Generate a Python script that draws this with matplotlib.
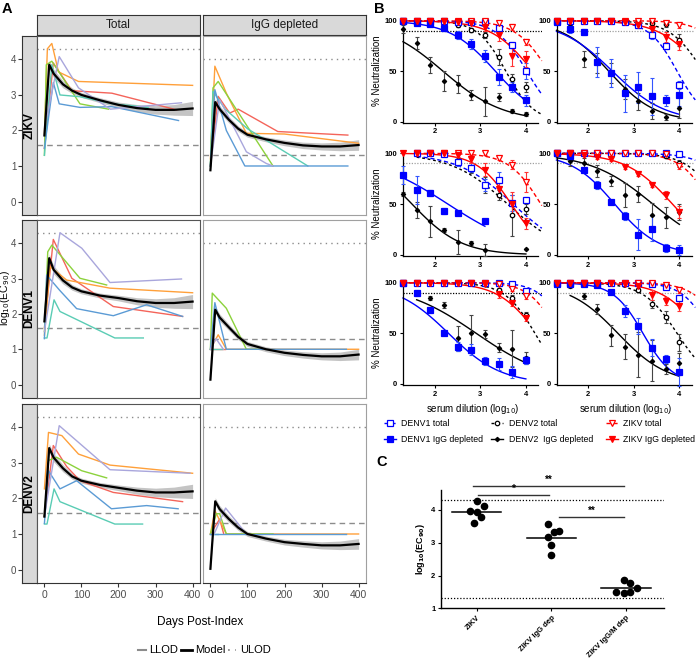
import numpy as np
import matplotlib.pyplot as plt
from matplotlib.lines import Line2D

plt.rcParams['font.family'] = ['Liberation Sans', 'DejaVu Sans']

# ---------------- panel A data ----------------
A_ROWS = ['ZIKV', 'DENV1', 'DENV2']
A_COLS = ['Total', 'IgG depleted']
A_LLOD = [1.6, 1.3]
A_ULOD = [4.3, 4.0]
SUBJ_COLORS = ['#F4645A', '#FFA03A', '#8CD23C', '#5ACCB4', '#5B9BD5', '#A9A6DC']

# (days, log10 EC90) per subject, order: red, orange, green, teal, blue, lavender
zikv_tot = [([0, 24, 74, 182, 357], [1.5, 3.9, 3.12, 3.05, 2.58]),
            ([0, 8, 20, 38, 92, 400], [1.9, 4.3, 4.45, 3.65, 3.38, 3.27]),
            ([0, 5, 20, 96, 173], [1.3, 3.85, 3.95, 2.75, 2.6]),
            ([0, 20, 42, 96, 185, 280], [1.3, 3.85, 3.0, 2.95, 2.75, 2.65]),
            ([0, 24, 40, 96, 182, 362], [1.5, 3.35, 2.75, 2.65, 2.67, 2.28]),
            ([5, 40, 92, 178, 370], [2.3, 4.08, 3.2, 2.6, 2.78])]
zikv_dep = [([0, 21, 52, 75, 182, 371], [1.0, 2.96, 2.49, 2.6, 1.97, 1.87]),
            ([0, 12, 43, 97, 200, 400], [1.2, 3.81, 3.05, 1.92, 1.9, 1.64]),
            ([0, 7, 21, 169], [1.0, 3.2, 3.38, 1.0]),
            ([0, 7, 40, 100, 263], [1.0, 3.1, 2.6, 2.05, 1.0]),
            ([0, 12, 43, 93, 371], [1.0, 3.15, 2.0, 1.0, 1.0]),
            ([0, 25, 97, 151, 169], [1.0, 2.87, 1.4, 1.07, 1.0])]
denv1_tot = [([0, 24, 74, 186, 373], [1.6, 4.11, 3.01, 2.21, 1.93]),
             ([0, 15, 60, 177, 400], [1.4, 3.34, 2.96, 2.73, 2.6]),
             ([0, 9, 20, 96, 168], [1.5, 3.76, 3.95, 3.01, 2.82]),
             ([0, 7, 26, 42, 190, 267], [1.32, 1.32, 2.4, 2.07, 1.32, 1.32]),
             ([0, 6, 42, 87, 186, 276, 373], [1.3, 3.1, 2.66, 2.15, 1.95, 2.26, 1.93]),
             ([0, 42, 101, 177, 370], [1.5, 4.3, 3.86, 2.89, 2.99])]
denv1_dep = [([0, 40], [1.0, 1.0]),
             ([0, 21, 43, 400], [1.0, 1.41, 1.0, 1.0]),
             ([0, 5, 43, 97, 130], [1.0, 2.59, 2.16, 1.0, 1.0]),
             ([0, 30], [1.0, 1.0]),
             ([0, 12, 43, 367], [1.0, 2.32, 1.0, 1.0]),
             ([0, 15, 35], [1.0, 1.3, 1.0])]
denv2_tot = [([0, 24, 60, 96, 186, 373], [1.5, 3.49, 2.9, 2.5, 2.17, 1.91]),
             ([0, 11, 47, 92, 177, 400], [2.27, 3.86, 3.77, 3.25, 2.94, 2.71]),
             ([0, 11, 33, 101, 168], [1.5, 3.07, 3.16, 2.78, 2.58]),
             ([0, 7, 26, 42, 190, 265], [1.28, 1.28, 2.27, 1.91, 1.28, 1.28]),
             ([0, 11, 42, 87, 181, 276, 361], [1.3, 2.78, 2.27, 2.5, 1.71, 1.8, 1.71]),
             ([0, 40, 177, 393], [1.5, 4.05, 2.81, 2.71])]
denv2_dep = [([0, 25, 36], [1.0, 1.42, 1.0]),
             ([0, 12, 43, 367, 400], [1.0, 1.66, 1.0, 1.0, 1.0]),
             ([0, 16, 25, 43, 169], [1.0, 1.57, 1.57, 1.0, 1.0]),
             ([0, 20], [1.0, 1.0]),
             ([0, 367], [1.0, 1.0]),
             ([10, 41, 97], [1.0, 1.73, 1.0])]

MODEL_DAYS = [0, 13, 25, 50, 75, 100, 150, 200, 250, 300, 350, 400]
zikv_tot_model = [1.86, 3.85, 3.6, 3.3, 3.12, 3.0, 2.85, 2.72, 2.63, 2.58, 2.58, 2.62]
zikv_dep_model = [0.88, 2.8, 2.6, 2.3, 2.05, 1.88, 1.75, 1.65, 1.58, 1.55, 1.55, 1.59]
denv1_tot_model = [1.79, 3.58, 3.25, 2.95, 2.75, 2.64, 2.52, 2.45, 2.36, 2.31, 2.31, 2.35]
denv1_dep_model = [0.14, 2.12, 1.9, 1.62, 1.35, 1.15, 1.0, 0.9, 0.84, 0.8, 0.8, 0.85]
denv2_tot_model = [1.49, 3.42, 3.15, 2.85, 2.62, 2.5, 2.38, 2.3, 2.22, 2.17, 2.17, 2.2]
denv2_dep_model = [0.02, 1.92, 1.7, 1.42, 1.18, 1.0, 0.87, 0.77, 0.72, 0.68, 0.68, 0.72]
band_tot = [0.05, 0.12, 0.12, 0.1, 0.08, 0.07, 0.07, 0.08, 0.1, 0.12, 0.15, 0.2]
band_dep = [0.05, 0.1, 0.1, 0.09, 0.08, 0.07, 0.07, 0.08, 0.09, 0.1, 0.12, 0.15]

A_DATA = [[zikv_tot, zikv_dep], [denv1_tot, denv1_dep], [denv2_tot, denv2_dep]]
A_MODEL = [[zikv_tot_model, zikv_dep_model], [denv1_tot_model, denv1_dep_model],
           [denv2_tot_model, denv2_dep_model]]
A_BAND = [band_tot, band_dep]

# ---------------- panel B data ----------------
nan = np.nan
DIL = [1.3, 1.6, 1.9, 2.2, 2.5, 2.8, 3.1, 3.4, 3.7, 4.0]
B_SERIES = ['DENV1 total', 'DENV1 IgG depleted', 'DENV2 total',
            'DENV2  IgG depleted', 'ZIKV total', 'ZIKV IgG depleted']
# order in each list: DENV1 tot, DENV1 dep, DENV2 tot, DENV2 dep, ZIKV tot, ZIKV dep
b1_vals = [[100, 100, 100, 100, 99, 99, 99, 93, 76, 50],
           [100, 98, 97, 93, 86, 77, 65, 44, 34, 21],
           [100, 100, 100, 99, 96, 91, 86, 64, 42, 34],
           [92, 78, 56, 40, 37, 26, 20, 24, 11, 8],
           [100, 100, 100, 100, 100, 100, 100, 98, 94, 79],
           [100, 100, 100, 100, 99, 98, 94, 86, 65, 62]]
b1_err = [[0, 0, 0, 0, 0, 1, 1, 3, 3, 8], [1, 2, 2, 3, 4, 5, 6, 8, 5, 5],
          [0, 0, 0, 1, 2, 2, 3, 8, 5, 5], [4, 6, 8, 10, 9, 5, 14, 4, 2, 2],
          [0, 0, 0, 0, 0, 0, 1, 2, 3, 3], [1, 1, 1, 1, 2, 2, 4, 6, 10, 8]]
b1_fit = [(4.02, 1.3), (3.33, 0.86), (3.56, 1.4), (2.18, 0.66), (4.5, 1.2), (4.15, 0.96)]

b2_vals = [[100, 100, 100, 100, 100, 99, 96, 86, 75, 36],
           [99, 92, 89, 59, 48, 28, 34, 25, 21, 26],
           [100, 100, 100, 100, 100, 99, 99, 98, 97, 81],
           [99, 97, 62, 58, 48, 32, 20, 11, 5, 14],
           [100, 100, 100, 100, 100, 100, 100, 100, 98, 96],
           [100, 100, 100, 100, 100, 99, 96, 92, 84, 77]]
b2_err = [[0, 0, 0, 0, 0, 1, 2, 4, 3, 4], [1, 4, 3, 15, 14, 18, 15, 18, 5, 10],
          [0, 0, 0, 0, 0, 1, 1, 2, 3, 6], [1, 1, 8, 10, 10, 10, 8, 8, 3, 10],
          [0, 0, 0, 0, 0, 0, 0, 1, 2, 3], [1, 1, 1, 1, 1, 2, 3, 4, 5, 6]]
b2_fit = [(3.95, 1.4), (2.53, 0.75), (4.52, 1.2), (2.45, 0.85), (5.2, 1.3), (4.52, 0.92)]

b3_vals = [[nan, 100, 100, 99, 91, 86, 69, 74, 51, 54],
           [79, 64, 61, 43, 41, nan, 33, nan, nan, nan],
           [nan, 100, 100, 99, 92, 85, 69, 59, 39, 45],
           [60, 44, 33, 25, 13, 12, 5, nan, nan, 6],
           [nan, 100, 100, 100, 100, 100, 100, 95, 89, 72],
           [100, 100, 100, 100, 98, 94, 84, 65, 50, 31]]
b3_err = [[0, 0, 1, 2, 3, 4, 6, 8, 8, 3], [9, 14, 3, 3, 2, 0, 0, 0, 0, 0],
          [0, 0, 1, 2, 3, 4, 8, 5, 20, 5], [2, 8, 15, 2, 12, 2, 6, 0, 0, 0],
          [0, 0, 0, 0, 0, 1, 2, 2, 4, 10], [0, 0, 0, 1, 2, 4, 6, 8, 12, 5]]
b3_fit = [(3.72, 0.71), (2.29, 0.5), (3.6, 0.7), (1.5, 0.8), (4.33, 1.24), (3.68, 1.15)]

b4_vals = [[100, 100, 100, 100, 100, 100, 100, 100, 100, 99],
           [100, 97, 84, 69, 52, 38, 20, 26, 7, 5],
           [100, 100, 100, 100, 100, 100, 100, 100, 97, 90],
           [100, 92, 90, 83, 73, 59, 60, 39, 37, 42],
           [100, 100, 100, 100, 100, 100, 100, 100, 99, 88],
           [100, 100, 98, 96, 94, 87, 80, 69, 59, 42]]
b4_err = [[0, 0, 0, 0, 0, 0, 0, 0, 0, 1], [0, 1, 2, 4, 2, 4, 15, 12, 4, 5],
          [0, 0, 0, 0, 0, 0, 1, 1, 2, 3], [1, 4, 5, 6, 5, 12, 8, 12, 10, 8],
          [0, 0, 0, 0, 0, 0, 0, 1, 1, 3], [1, 1, 1, 2, 2, 2, 2, 2, 4, 6]]
b4_fit = [(5.3, 1.2), (2.58, 0.9), (4.9, 1.2), (3.42, 0.63), (4.7, 1.3), (3.85, 0.85)]

b5_vals = [[100, 100, 100, 100, 100, 100, 100, 100, 99, 92],
           [100, 90, 73, 50, 37, 34, 23, 20, 12, 24],
           [100, 100, 100, 100, 100, 100, 99, 93, 85, 68],
           [nan, 90, 85, 78, 45, 50, 49, 36, 35, 26],
           [100, 100, 100, 100, 100, 100, 100, 99, 94, 87],
           [100, 100, 100, 100, 100, 100, 99, 89, 80, 65]]
b5_err = [[0, 0, 0, 0, 0, 0, 0, 1, 2, 2], [1, 3, 3, 2, 4, 5, 4, 6, 6, 4],
          [0, 0, 0, 0, 0, 0, 1, 2, 3, 3], [0, 2, 2, 3, 12, 18, 4, 4, 18, 6],
          [0, 0, 0, 0, 0, 0, 0, 1, 2, 3], [1, 1, 1, 1, 1, 1, 2, 4, 3, 3]]
b5_fit = [(4.9, 1.5), (2.3, 0.75), (4.2, 1.3), (2.91, 0.53), (4.7, 1.4), (4.25, 1.0)]

b6_vals = [[100, 100, 100, 100, 100, 100, 100, 99, 96, 85],
           [99, 99, 99, 98, 91, 72, 57, 36, 25, 12],
           [100, 100, 100, 100, 100, 99, 93, 79, 66, 41],
           [nan, 97, 87, 74, 48, 37, 29, 23, 15, 21],
           [100, 100, 100, 100, 100, 100, 100, 100, 98, 93],
           [100, 100, 100, 100, 100, 99, 97, 88, 82, 77]]
b6_err = [[0, 0, 0, 0, 0, 0, 1, 1, 2, 3], [1, 1, 1, 1, 2, 6, 8, 8, 4, 14],
          [0, 0, 0, 0, 0, 1, 2, 4, 6, 8], [0, 2, 3, 5, 10, 12, 22, 20, 5, 10],
          [0, 0, 0, 0, 0, 0, 0, 1, 2, 3], [0, 0, 0, 1, 1, 2, 3, 5, 4, 5]]
b6_fit = [(4.7, 1.4), (3.2, 1.33), (3.95, 1.17), (2.65, 0.8), (5.0, 1.3), (4.5, 1.0)]

# ---------------- panel C data ----------------
C_GROUPS = ['ZIKV', 'ZIKV IgG dep', 'ZIKV IgG/M dep']
c_zikv = [4.26, 4.12, 3.97, 3.93, 3.80, 3.59]
c_zikv_jit = [0.0, 0.10, -0.09, 0.0, 0.05, -0.04]
c_igg = [3.56, 3.37, 3.32, 3.16, 2.92, 2.63]
c_igg_jit = [-0.05, 0.10, 0.04, -0.05, 0.0, 0.0]
c_iggm = [1.86, 1.78, 1.61, 1.51, 1.49, 1.46]
c_iggm_jit = [-0.03, 0.06, 0.15, -0.13, 0.06, -0.03]
C_SIG = [(-0.05, 1.98, 4.74, '**'), (0.02, 0.97, 4.45, '*'), (1.1, 1.98, 3.8, '**')]

# ---------------- figure ----------------
W, H = 696, 667
fig = plt.figure(figsize=(W / 100, H / 100), dpi=100)


def px_axes(x0, y0, x1, y1):
    return fig.add_axes([x0 / W, 1 - y1 / H, (x1 - x0) / W, (y1 - y0) / H])


def fx(x):
    return x / W


def fy(y):
    return 1 - y / H


# ===== panel A =====
row_px = [(36, 215), (220, 398), (404, 583)]
col_px = [(37, 200), (203, 366)]
YL = (-0.38, 4.66)
tick_gray = '#4D4D4D'

for j, (x0, x1) in enumerate(col_px):
    cax = px_axes(x0, 15, x1, 35)
    cax.set_facecolor('#D9D9D9')
    cax.set_xticks([])
    cax.set_yticks([])
    for s in cax.spines.values():
        s.set_color('#333333')
        s.set_linewidth(0.8)
    cax.text(0.5, 0.5, A_COLS[j], transform=cax.transAxes, ha='center', va='center',
             fontsize=8.5, color='#1A1A1A')

for i, (y0, y1) in enumerate(row_px):
    sax = px_axes(22, y0, 37, y1)
    sax.set_facecolor('#D9D9D9')
    sax.set_ylim(YL)
    sax.set_xticks([])
    sax.set_yticks(range(5))
    sax.tick_params(axis='y', length=3, color='#333333', labelsize=7, labelcolor=tick_gray,
                    pad=1.0)
    for s in sax.spines.values():
        s.set_color('#333333')
        s.set_linewidth(0.8)
    sax.text(0.5, 0.5, A_ROWS[i], transform=sax.transAxes, rotation=90, ha='center',
             va='center', fontsize=8.5, fontweight='bold')

    for j, (x0, x1) in enumerate(col_px):
        ax = px_axes(x0, y0, x1, y1)
        ax.set_xlim(-20, 420)
        ax.set_ylim(YL)
        ax.set_yticks([])
        edge = '#555555' if j == 0 else '#A0A0A0'
        for s in ax.spines.values():
            s.set_color(edge)
            s.set_linewidth(0.8)
        ax.axhline(A_ULOD[j], color='#8C8C8C', ls=(0, (1, 3)), lw=1.0)
        ax.axhline(A_LLOD[j], color='#8C8C8C', ls=(0, (4, 3)), lw=1.0)
        for k, (d, v) in enumerate(A_DATA[i][j]):
            ax.plot(d, v, color=SUBJ_COLORS[k], lw=1.0)
        m = np.array(A_MODEL[i][j])
        b = np.array(A_BAND[j])
        ax.fill_between(MODEL_DAYS, m - b, m + b, color='#BEBEBE', lw=0, alpha=0.9)
        ax.plot(MODEL_DAYS, m, color='black', lw=1.6)
        if i == 2:
            ax.spines['bottom'].set_color('#333333')
            ax.set_xticks([0, 100, 200, 300, 400])
            ax.tick_params(axis='x', length=3, color='#333333', labelsize=7.5,
                           labelcolor=tick_gray, pad=2)
        else:
            ax.set_xticks([])

fig.text(fx(5.5), fy(298), 'log$_{10}$(EC$_{90}$)', rotation=90, ha='center', va='center',
         fontsize=7.5)
fig.text(fx(200), fy(622), 'Days Post-Index', ha='center', va='center', fontsize=8.5)

# legend for A
ly = fy(650)
fig.add_artist(Line2D([fx(138), fx(146)], [ly, ly], color='#8C8C8C', lw=1.5))
fig.text(fx(149), ly, 'LLOD', va='center', fontsize=8)
fig.add_artist(Line2D([fx(181), fx(192)], [ly, ly], color='black', lw=2.0))
fig.text(fx(195), ly, 'Model', va='center', fontsize=8)
fig.add_artist(Line2D([fx(228), fx(236)], [ly, ly], color='#8C8C8C', lw=1.3, ls=(0, (1, 3))))
fig.text(fx(240), ly, 'ULOD', va='center', fontsize=8)

fig.text(fx(2), fy(2), 'A', fontsize=10.5, fontweight='bold', va='top')

# ===== panel B =====
BLUE, BLACK, RED = '#0000FF', '#000000', '#FF0000'
B_STYLE = [
    dict(color=BLUE, marker='s', mfc='white', ls=(0, (3, 2)), ms=4.0, ecol='#3355FF'),
    dict(color=BLUE, marker='s', mfc=BLUE, ls='-', ms=4.0, ecol='#3355FF'),
    dict(color=BLACK, marker='o', mfc='white', ls=(0, (2, 2)), ms=3.2, ecol='#444444'),
    dict(color=BLACK, marker='D', mfc=BLACK, ls='-', ms=2.2, ecol='#444444'),
    dict(color=RED, marker='v', mfc='white', ls=(0, (3, 2)), ms=4.0, ecol='#FF3333'),
    dict(color=RED, marker='v', mfc=RED, ls='-', ms=4.0, ecol='#FF3333'),
]
DRAW_ORDER = [2, 3, 0, 1, 4, 5]


def logistic(x, c, h):
    return 100.0 / (1.0 + 10.0 ** (h * (x - c)))


B_PANELS = [(b1_vals, b1_err, b1_fit, 'black'), (b2_vals, b2_err, b2_fit, '#A0A0A0'),
            (b3_vals, b3_err, b3_fit, '#A0A0A0'), (b4_vals, b4_err, b4_fit, '#A0A0A0'),
            (b5_vals, b5_err, b5_fit, 'black'), (b6_vals, b6_err, b6_fit, '#A0A0A0')]
b_cols = [(403, 541.8), (556.5, 695.3)]
b_rows = [(18.7, 122.7), (151.3, 256), (280.7, 385)]

x = np.array(DIL)
for p, (vals, errs, fits, dotcol) in enumerate(B_PANELS):
    r, cidx = divmod(p, 2)
    ax = px_axes(b_cols[cidx][0], b_rows[r][0], b_cols[cidx][1], b_rows[r][1])
    ax.set_xlim(1.3, 4.35)
    ax.set_ylim(-1, 102)
    ax.axhline(90, color=dotcol, ls=(0, (1, 1.2)), lw=0.9, zorder=1)
    for k in DRAW_ORDER:
        st = B_STYLE[k]
        v = np.array(vals[k], dtype=float)
        e = np.array(errs[k], dtype=float)
        ok = ~np.isnan(v)
        c, h = fits[k]
        x_end = 4.35 if k in (0, 2, 4) else x[ok][-1]
        xc = np.linspace(x[ok][0], x_end, 120)
        ax.plot(xc, logistic(xc, c, h), color=st['color'], ls=st['ls'], lw=1.0,
                clip_on=False, zorder=2)
        ax.errorbar(x[ok], v[ok], yerr=e[ok], fmt='none', ecolor=st['ecol'], elinewidth=0.8,
                    capsize=1.6, capthick=0.8, clip_on=False, zorder=3)
        ax.plot(x[ok], v[ok], ls='none', marker=st['marker'], ms=st['ms'], mfc=st['mfc'],
                mec=st['color'], mew=0.9, clip_on=False, zorder=4)
    for s in ['top', 'right']:
        ax.spines[s].set_visible(False)
    ax.spines['bottom'].set_bounds(1.3, 4.27)
    for s in ['left', 'bottom']:
        ax.spines[s].set_linewidth(0.9)
    ax.set_xticks([2, 3, 4])
    ax.set_yticks([0, 50, 100])
    ax.tick_params(length=2.5, width=0.8, labelsize=5.5, pad=1.5)
    for lab in ax.get_xticklabels() + ax.get_yticklabels():
        lab.set_fontweight('bold')
    if cidx == 0:
        ax.set_ylabel('% Neutralization', fontsize=7, labelpad=2)
    if r == 2:
        ax.set_xlabel('serum dilution (log$_{10}$)', fontsize=7, labelpad=3)

fig.text(fx(374), fy(2), 'B', fontsize=10.5, fontweight='bold', va='top')

# legend for B (drawn by hand, 3 columns x 2 rows)
leg_cols = [(390, 401), (497, 509), (612, 623)]
leg_rows = [423, 439]
for k, name in enumerate(B_SERIES):
    col, row = divmod(k, 2)
    mx, tx = leg_cols[col]
    yy = fy(leg_rows[row])
    st = B_STYLE[k]
    fig.add_artist(Line2D([fx(mx - 6), fx(mx), fx(mx + 6)], [yy, yy, yy], color=st['color'],
                          ls=st['ls'], lw=1.0, marker=st['marker'], markevery=[1],
                          ms=st['ms'], mfc=st['mfc'], mec=st['color'], mew=0.9))
    fig.text(fx(tx), yy, name, va='center', fontsize=6.3)

# ===== panel C =====
axc = px_axes(441, 490.3, 664, 608.3)
axc.set_xlim(-0.48, 2.51)
axc.set_ylim(1, 4.6)
for gi, (vals, jit) in enumerate([(c_zikv, c_zikv_jit), (c_igg, c_igg_jit),
                                  (c_iggm, c_iggm_jit)]):
    axc.plot(gi + np.array(jit), vals, ls='none', marker='o', ms=4.5, color='black',
             clip_on=False)
    mu = np.mean(vals)
    axc.plot([gi - 0.33, gi + 0.33], [mu, mu], color='black', lw=1.1)
axc.axhline(4.3, color='black', ls=(0, (1, 1.5)), lw=0.9)
axc.axhline(1.3, color='black', ls=(0, (1, 1.5)), lw=0.9)
for x0, x1, yv, lab in C_SIG:
    axc.plot([x0, x1], [yv, yv], color='#333333', lw=1.0, clip_on=False)
    axc.text((x0 + x1) / 2, yv + 0.03, lab, ha='center', va='bottom', fontsize=7,
             fontweight='bold')
for s in ['top', 'right']:
    axc.spines[s].set_visible(False)
for s in ['left', 'bottom']:
    axc.spines[s].set_linewidth(1.0)
axc.set_yticks([1, 2, 3, 4])
axc.set_xticks(range(3))
axc.set_xticklabels(C_GROUPS, rotation=45, ha='right', rotation_mode='anchor')
axc.tick_params(length=2.5, width=0.8, labelsize=5.5, pad=1.5)
for lab in axc.get_xticklabels() + axc.get_yticklabels():
    lab.set_fontweight('bold')
axc.set_ylabel(r'log$_{\mathbf{10}}$(EC$_{\mathbf{90}}$)', fontsize=6.5, fontweight='bold',
               labelpad=3)

fig.text(fx(376), fy(455), 'C', fontsize=10.5, fontweight='bold', va='top')

fig.savefig('out.png', dpi=100)
